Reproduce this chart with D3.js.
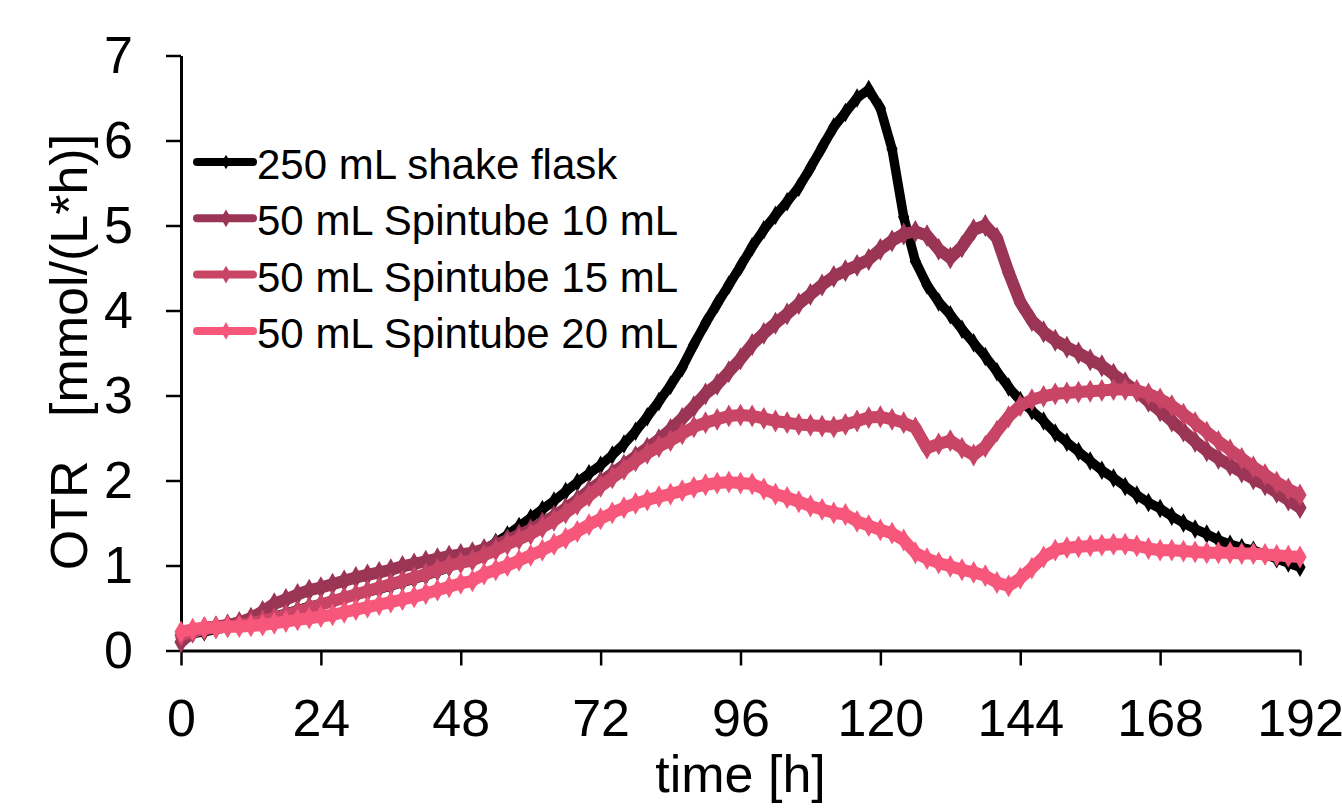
<!DOCTYPE html>
<html>
<head>
<meta charset="utf-8">
<script src="https://cdn.jsdelivr.net/npm/d3@7"></script>
<style>
  body { margin: 0; background: #fff; }
  text { font-family: "Liberation Sans", Arial, sans-serif; fill: #000; }
</style>
</head>
<body>
<div id="graph"></div>
<script>
// Temps de mesure (h)
var heures = [0, 2, 4, 6, 8, 10, 12, 14, 16, 18, 20, 22, 24, 26, 28, 30, 32, 34, 36, 38,
  40, 42, 44, 46, 48, 50, 52, 54, 56, 58, 60, 62, 64, 66, 68, 70, 72, 74, 76, 78,
  80, 82, 84, 86, 88, 90, 92, 94, 96, 98, 100, 102, 104, 106, 108, 110, 112, 114, 116, 118,
  120, 122, 124, 126, 128, 130, 132, 134, 136, 138, 140, 142, 144, 146, 148, 150, 152, 154, 156, 158,
  160, 162, 164, 166, 168, 170, 172, 174, 176, 178, 180, 182, 184, 186, 188, 190, 192];

// OTR [mmol/(L*h)] pour chaque culture
var otr_flask250 = [0.15, 0.20, 0.22, 0.25, 0.27, 0.30, 0.32, 0.36, 0.40, 0.44, 0.48, 0.52, 0.55, 0.59, 0.62, 0.65, 0.69, 0.72, 0.76, 0.80,
  0.84, 0.88, 0.93, 0.98, 1.04, 1.10, 1.18, 1.27, 1.36, 1.46, 1.56, 1.66, 1.76, 1.87, 1.98, 2.08, 2.18, 2.30, 2.43, 2.58,
  2.75, 2.93, 3.12, 3.33, 3.60, 3.85, 4.08, 4.30, 4.52, 4.75, 4.95, 5.12, 5.28, 5.45, 5.68, 5.92, 6.16, 6.33, 6.50, 6.60,
  6.38, 5.90, 5.10, 4.58, 4.30, 4.10, 3.95, 3.78, 3.62, 3.46, 3.28, 3.10, 2.94, 2.82, 2.70, 2.56, 2.45, 2.34, 2.23, 2.12,
  2.03, 1.93, 1.83, 1.74, 1.67, 1.58, 1.50, 1.43, 1.37, 1.30, 1.25, 1.21, 1.18, 1.13, 1.08, 1.03, 0.98];

var otr_tube10 = [0.10, 0.22, 0.27, 0.28, 0.30, 0.33, 0.38, 0.46, 0.55, 0.60, 0.66, 0.71, 0.74, 0.78, 0.82, 0.86, 0.89, 0.92, 0.95, 0.99,
  1.02, 1.05, 1.08, 1.11, 1.13, 1.15, 1.19, 1.24, 1.30, 1.36, 1.42, 1.50, 1.58, 1.67, 1.77, 1.88, 1.98, 2.08, 2.18, 2.28,
  2.38, 2.48, 2.60, 2.73, 2.87, 3.02, 3.13, 3.28, 3.43, 3.60, 3.73, 3.85, 3.96, 4.08, 4.19, 4.30, 4.40, 4.47, 4.53, 4.60,
  4.72, 4.82, 4.90, 4.93, 4.88, 4.72, 4.62, 4.75, 4.95, 5.00, 4.85, 4.45, 4.10, 3.88, 3.75, 3.65, 3.57, 3.50, 3.42, 3.35,
  3.25, 3.15, 3.05, 2.93, 2.82, 2.70, 2.58, 2.46, 2.35, 2.26, 2.18, 2.10, 2.02, 1.95, 1.86, 1.77, 1.68];

var otr_tube15 = [0.18, 0.22, 0.25, 0.27, 0.28, 0.30, 0.32, 0.35, 0.38, 0.42, 0.46, 0.50, 0.54, 0.58, 0.62, 0.66, 0.70, 0.74, 0.78, 0.82,
  0.86, 0.90, 0.95, 1.00, 1.03, 1.06, 1.12, 1.18, 1.25, 1.31, 1.37, 1.45, 1.53, 1.62, 1.72, 1.82, 1.93, 2.03, 2.13, 2.23,
  2.32, 2.40, 2.47, 2.55, 2.63, 2.68, 2.72, 2.76, 2.77, 2.76, 2.73, 2.70, 2.68, 2.66, 2.65, 2.64, 2.63, 2.66, 2.70, 2.74,
  2.75, 2.72, 2.68, 2.62, 2.38, 2.43, 2.47, 2.38, 2.30, 2.40, 2.58, 2.75, 2.88, 2.95, 2.99, 3.02, 3.03, 3.04, 3.05, 3.06,
  3.07, 3.07, 3.06, 3.02, 2.96, 2.88, 2.78, 2.68, 2.57, 2.46, 2.36, 2.26, 2.16, 2.07, 1.98, 1.90, 1.83];

var otr_tube20 = [0.22, 0.25, 0.27, 0.27, 0.28, 0.28, 0.29, 0.30, 0.32, 0.34, 0.36, 0.38, 0.40, 0.42, 0.45, 0.48, 0.51, 0.54, 0.57, 0.60,
  0.63, 0.67, 0.71, 0.75, 0.79, 0.82, 0.90, 0.95, 1.00, 1.06, 1.12, 1.18, 1.25, 1.32, 1.40, 1.48, 1.55, 1.62, 1.68, 1.73,
  1.77, 1.81, 1.84, 1.88, 1.92, 1.95, 1.97, 1.98, 1.97, 1.96, 1.90, 1.84, 1.80, 1.75, 1.70, 1.66, 1.62, 1.60, 1.52, 1.47,
  1.42, 1.38, 1.30, 1.15, 1.08, 1.03, 0.99, 0.95, 0.92, 0.88, 0.80, 0.76, 0.85, 0.97, 1.10, 1.18, 1.21, 1.22, 1.23, 1.24,
  1.25, 1.25, 1.23, 1.20, 1.18, 1.18, 1.17, 1.16, 1.15, 1.15, 1.15, 1.14, 1.14, 1.13, 1.12, 1.11, 1.10];

// Libellés de la légende et couleurs
var noms_series = ["250 mL shake flask", "50 mL Spintube 10 mL", "50 mL Spintube 15 mL", "50 mL Spintube 20 mL"];
var couleurs = ["#000000", "#9b3555", "#c94566", "#f6577b"];
var graduations_x = [0, 24, 48, 72, 96, 120, 144, 168, 192];

var valeurs = [otr_flask250, otr_tube10, otr_tube15, otr_tube20];
var series = noms_series.map(function(nom, i) {
  return {
    nom: nom,
    couleur: couleurs[i],
    points: heures.map(function(h, j) { return { t: h, v: valeurs[i][j] }; })
  };
});

// Marges et taille du graphique
var largeurTotale = 1342,
    hauteurTotale = 810,
    marges = {haut: 55.5, gauche: 181, droit: 42, bas: 159.5},
    largeurInterne = largeurTotale - marges.gauche - marges.droit,
    hauteurInterne = hauteurTotale - marges.haut - marges.bas;

var echelleX = d3.scaleLinear().domain([0, 192]).range([0, largeurInterne]);
var echelleY = d3.scaleLinear().domain([0, 7]).range([hauteurInterne, 0]);

var svg = d3.select("#graph").append("svg")
    .attr("width", largeurTotale)
    .attr("height", hauteurTotale);

var graphique = svg.append("g")
    .attr("transform", "translate(" + marges.gauche + "," + marges.haut + ")");

// Axe X
var axeX = d3.axisBottom(echelleX)
    .tickValues(graduations_x)
    .tickSizeInner(15)
    .tickSizeOuter(0)
    .tickPadding(34);

var gX = graphique.append("g")
    .attr("transform", "translate(0," + hauteurInterne + ")")
    .call(axeX);

// Axe Y
var axeY = d3.axisLeft(echelleY)
    .ticks(7)
    .tickSizeInner(15)
    .tickSizeOuter(0)
    .tickPadding(33);

var gY = graphique.append("g").call(axeY);

[gX, gY].forEach(function(g) {
  g.select(".domain").attr("stroke", "#000").attr("stroke-width", 3);
  g.selectAll(".tick line").attr("stroke", "#000").attr("stroke-width", 2.5);
  g.selectAll(".tick text")
    .style("font-size", "52px")
    .style("font-family", "'Liberation Sans', Arial, sans-serif")
    .attr("fill", "#000");
});

// Titres des axes
svg.append("text")
    .attr("x", marges.gauche + largeurInterne / 2)
    .attr("y", 792)
    .attr("text-anchor", "middle")
    .style("font-size", "52px")
    .text("time [h]");

svg.append("text")
    .attr("transform", "translate(87,352) rotate(-90)")
    .attr("text-anchor", "middle")
    .style("font-size", "52px")
    .style("white-space", "pre")
    .text("OTR   [mmol/(L*h)]");

// Courbes et marqueurs
var ligne = d3.line()
    .x(function(d) { return echelleX(d.t); })
    .y(function(d) { return echelleY(d.v); });

var losange = d3.symbol().type(d3.symbolDiamond);

series.forEach(function(s, i) {
  var g = graphique.append("g");
  g.append("path")
    .datum(s.points)
    .attr("fill", "none")
    .attr("stroke", s.couleur)
    .attr("stroke-width", i === 0 ? 9.5 : 12)
    .attr("stroke-linejoin", "round")
    .attr("d", ligne);
  g.selectAll(".marque")
    .data(s.points)
    .enter()
    .append("path")
    .attr("class", "marque")
    .attr("transform", function(d) { return "translate(" + echelleX(d.t) + "," + echelleY(d.v) + ")"; })
    .attr("d", losange.size(i === 0 ? 110 : 150))
    .attr("fill", s.couleur);
});

// Légende
var legende = svg.append("g");
series.forEach(function(s, i) {
  var y = 162 + i * 56.3;
  legende.append("line")
    .attr("x1", 197).attr("x2", 253)
    .attr("y1", y).attr("y2", y)
    .attr("stroke", s.couleur)
    .attr("stroke-width", 8)
    .attr("stroke-linecap", "round");
  legende.append("path")
    .attr("transform", "translate(226," + y + ")")
    .attr("d", d3.symbol().type(d3.symbolDiamond).size(i === 0 ? 60 : 90)())
    .attr("fill", s.couleur);
  legende.append("text")
    .attr("x", 257)
    .attr("y", y + 17)
    .style("font-size", "42px")
    .text(s.nom);
});
</script>
</body>
</html>
